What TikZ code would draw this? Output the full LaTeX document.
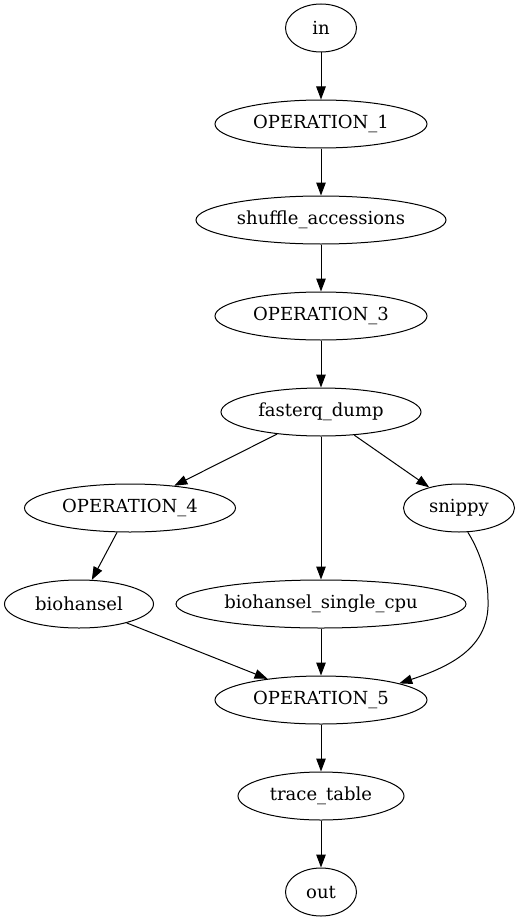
\documentclass[tikz,border=0pt]{standalone}
\usepackage{fontspec}
\setmainfont{DejaVu Serif}
\usepackage{tikz}
\usetikzlibrary{arrows.meta,shapes.geometric,positioning}

\begin{document}
\begin{tikzpicture}[x=1pt,y=1pt,>={Triangle[length=13pt,width=9.5pt]},
		every node/.style={font=\fontsize{18}{22}\selectfont},
		job/.style={ellipse,draw,line width=1pt,minimum height=48pt,inner sep=0pt},
		every path/.style={line width=1pt}]
		\useasboundingbox (0,0) rectangle (520,-923);
		\node[job,minimum width=71pt] (qIn) at (321,-28) {in};
		\node[job,minimum width=212pt] (qOp1) at (321,-124) {OPERATION\_1};
		\node[job,minimum width=250pt] (qShuf) at (321,-220) {shuffle\_accessions};
		\node[job,minimum width=212pt] (qOp3) at (321,-316) {OPERATION\_3};
		\node[job,minimum width=200pt] (qFq) at (321,-412) {fasterq\_dump};
		\node[job,minimum width=211pt] (qOp4) at (130,-508) {OPERATION\_4};
		\node[job,minimum width=111pt] (qSnip) at (459,-508) {snippy};
		\node[job,minimum width=149pt] (qBh) at (79,-604) {biohansel};
		\node[job,minimum width=290pt] (qBhs) at (321,-604) {biohansel\_single\_cpu};
		\node[job,minimum width=212pt] (qOp5) at (321,-700) {OPERATION\_5};
		\node[job,minimum width=166pt] (qTr) at (321,-796) {trace\_table};
		\node[job,minimum width=71pt] (qOut) at (321,-892) {out};

		\path[->]
		(qIn) edge (qOp1)
		(qOp1) edge (qShuf)
		(qShuf) edge (qOp3)
		(qOp3) edge (qFq)
		(qFq) edge (qOp4)
		(qFq) edge (qSnip)
		(qFq) edge (qBhs)
		(qOp4) edge (qBh)
		(qBh) edge (qOp5)
		(qBhs) edge (qOp5)
		(qOp5) edge (qTr)
		(qTr) edge (qOut)
		;
		% snippy goes round biohansel_single_cpu
		\draw[->] (qSnip.-70) .. controls (479,-550) and (488,-575) .. (488,-600)
			.. controls (490,-645) and (455,-665) .. (qOp5.12);
	\end{tikzpicture}
\end{document}
